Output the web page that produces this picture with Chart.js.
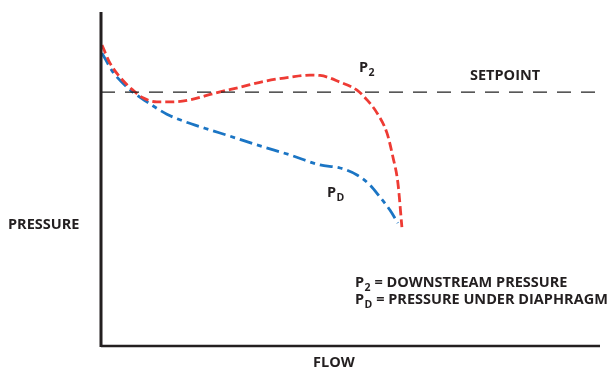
<!DOCTYPE html>
<html>
<head>
<meta charset="utf-8">
<script src="https://cdn.jsdelivr.net/npm/chart.js@4/dist/chart.umd.min.js"></script>
<style>
  html, body { margin: 0; padding: 0; background: #fff; }
  #wrap { position: relative; width: 611px; height: 371px; }
</style>
</head>
<body>
<div id="wrap"><canvas id="chart" width="611" height="371"></canvas></div>
<script>
// flow (0-100) vs pressure (0-100)
var p2_flow = [0.2, 1.8, 3.8, 6.4, 8.4, 11.2, 14.4, 17.8, 22.8, 27.9, 32.9, 37.9, 41.9, 43.9, 47.9, 51.3, 53.3, 55.3, 57.3, 58.5, 59.5, 60.3];
var p2_pressure = [90.1, 84.7, 80.5, 76.6, 74.3, 73.1, 73.1, 73.7, 75.7, 77.5, 79.3, 80.5, 81.1, 81.0, 79.0, 76.6, 73.7, 69.8, 63.8, 56.6, 48.8, 35.6];

var pd_flow = [0.2, 2.4, 4.4, 6.4, 9.2, 13.2, 16.4, 20.8, 25.9, 31.9, 37.9, 43.9, 47.9, 51.3, 53.9, 55.9, 57.9, 59.5];
var pd_pressure = [87.7, 82.0, 78.7, 76.0, 73.1, 69.4, 67.4, 65.2, 62.8, 59.9, 57.2, 54.2, 53.3, 51.2, 48.2, 44.6, 40.7, 36.8];

var setpoint_flow = [0, 100];
var setpoint_value = 76;

function toPoints(xs, ys) {
    var pts = [];
    for (let i = 0; i < xs.length; i++) {
        pts.push({ x: xs[i], y: ys[i] });
    }
    return pts;
}

var FONT = 'bold 14.5px "Open Sans", "Noto Sans", sans-serif';
var SUBFONT = 'bold 10.5px "Open Sans", "Noto Sans", sans-serif';
var INK = '#231f20';

// text with a subscript after the first letter
function subText(ctx, x, y, main, sub, rest) {
    ctx.font = FONT;
    ctx.fillText(main, x, y);
    x += ctx.measureText(main).width + 0.5;
    ctx.font = SUBFONT;
    ctx.fillText(sub, x, y + 4);
    x += ctx.measureText(sub).width;
    if (rest) {
        ctx.font = FONT;
        ctx.fillText(rest, x, y);
    }
}

const axesAndLabels = {
    id: 'axesAndLabels',
    afterDatasetsDraw(chart) {
        const ctx = chart.ctx;
        const a = chart.chartArea;
        ctx.save();
        // axes
        ctx.strokeStyle = INK;
        ctx.lineWidth = 3;
        ctx.beginPath();
        ctx.moveTo(a.left, a.top);
        ctx.lineTo(a.left, a.bottom + 1);
        ctx.stroke();
        ctx.lineWidth = 2.5;
        ctx.beginPath();
        ctx.moveTo(a.left, a.bottom);
        ctx.lineTo(a.right, a.bottom);
        ctx.stroke();

        // labels
        ctx.fillStyle = INK;
        ctx.textBaseline = 'alphabetic';
        ctx.font = FONT;
        ctx.fillText('PRESSURE', 8, 229);
        ctx.fillText('FLOW', 313, 367);
        ctx.fillText('SETPOINT', 470, 80);
        subText(ctx, 359, 72, 'P', '2');
        subText(ctx, 327, 197, 'P', 'D');
        subText(ctx, 355, 287, 'P', '2', ' = DOWNSTREAM PRESSURE');
        subText(ctx, 355, 304, 'P', 'D', ' = PRESSURE UNDER DIAPHRAGM');
        ctx.restore();
    }
};

const ctx = document.getElementById('chart').getContext('2d');
const myChart = new Chart(ctx, {
    type: 'scatter',
    data: {
        datasets: [{
            label: 'SETPOINT',
            data: toPoints(setpoint_flow, [setpoint_value, setpoint_value]),
            showLine: true,
            borderColor: '#222',
            borderWidth: 1.2,
            borderDash: [14, 10],
            pointRadius: 0,
        }, {
            label: 'P2',
            data: toPoints(p2_flow, p2_pressure),
            showLine: true,
            borderColor: '#ee3b34',
            borderWidth: 2.8,
            borderDash: [9, 4],
            cubicInterpolationMode: 'monotone',
            pointRadius: 0,
        }, {
            label: 'PD',
            data: toPoints(pd_flow, pd_pressure),
            showLine: true,
            borderColor: '#1b75c4',
            borderWidth: 2.8,
            borderDash: [13, 5, 5, 5],
            cubicInterpolationMode: 'monotone',
            pointRadius: 0,
        }],
    },
    options: {
        responsive: false,
        animation: false,
        layout: {
            padding: { left: 101, right: 11, top: 12, bottom: 25 }
        },
        plugins: {
            legend: { display: false },
            tooltip: { enabled: false },
        },
        scales: {
            x: { display: false, min: 0, max: 100 },
            y: { display: false, min: 0, max: 100 },
        },
    },
    plugins: [axesAndLabels],
});
</script>
</body>
</html>
